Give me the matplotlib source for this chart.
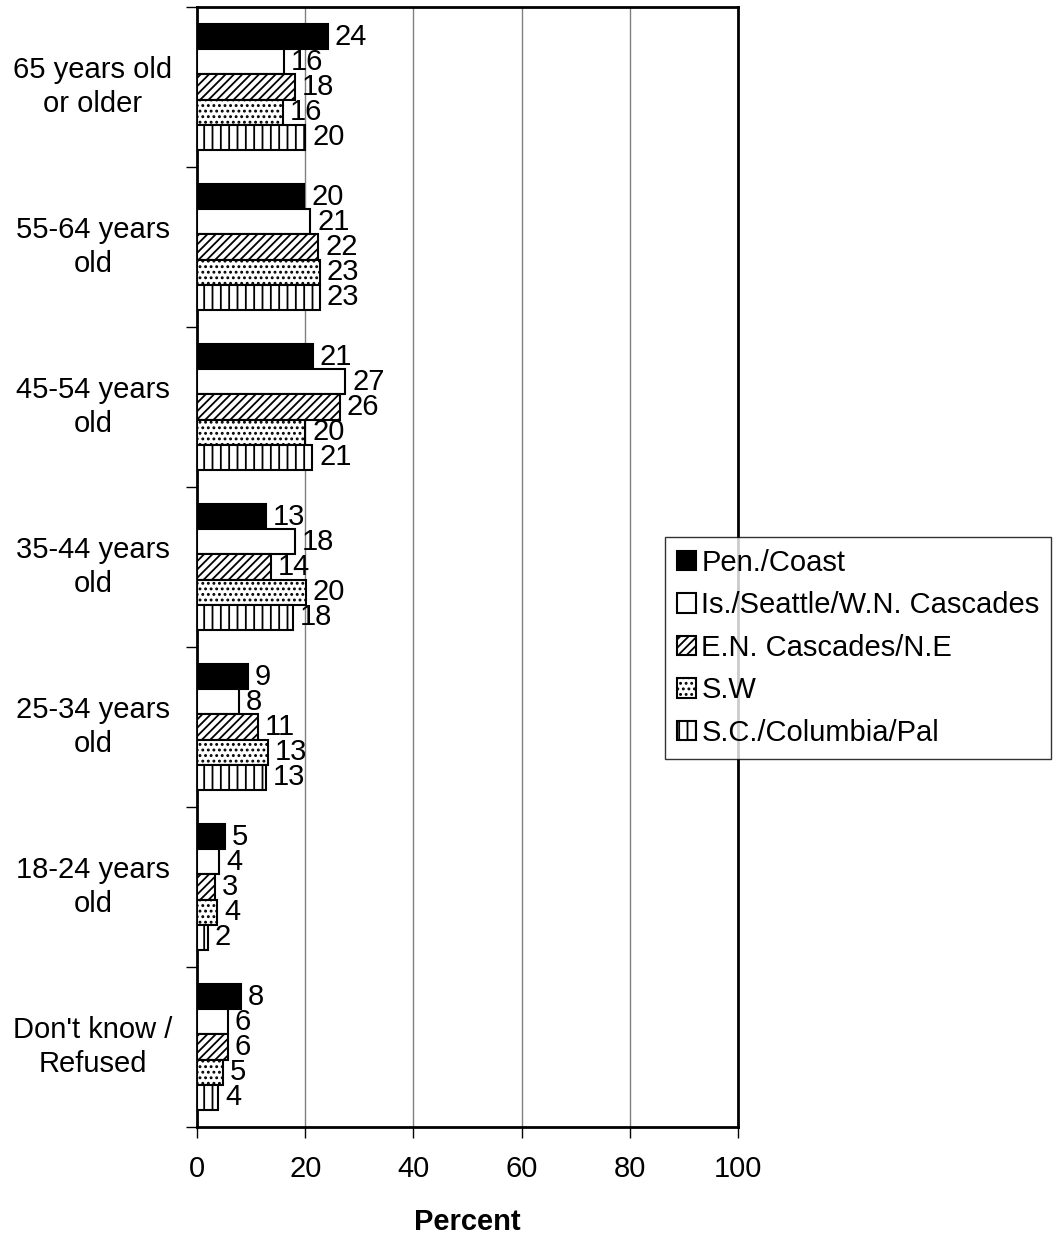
import matplotlib.pyplot as plt
import matplotlib.transforms as mtransforms
import numpy as np

plt.rcParams["font.family"] = ["Liberation Sans", "DejaVu Sans"]
plt.rcParams["hatch.linewidth"] = 1.3

categories = [
    "65 years old\nor older",
    "55-64 years\nold",
    "45-54 years\nold",
    "35-44 years\nold",
    "25-34 years\nold",
    "18-24 years\nold",
    "Don't know /\nRefused",
]
regions = [
    "Pen./Coast",
    "Is./Seattle/W.N. Cascades",
    "E.N. Cascades/N.E",
    "S.W",
    "S.C./Columbia/Pal",
]
pen_coast = [24.2, 19.8, 21.4, 12.8, 9.4, 5.2, 8.1]
is_seattle = [16.1, 20.9, 27.4, 18.1, 7.8, 4.1, 5.7]
en_cascades = [18.1, 22.4, 26.4, 13.7, 11.3, 3.3, 5.7]
sw = [15.9, 22.7, 20.0, 20.1, 13.1, 3.7, 4.8]
sc_columbia = [20.0, 22.7, 21.3, 17.7, 12.8, 2.0, 3.9]
series = [pen_coast, is_seattle, en_cascades, sw, sc_columbia]

styles = [
    dict(color="black", hatch=None),
    dict(color="white", hatch=None),
    dict(color="white", hatch="////"),
    dict(color="white", hatch="..."),
    dict(color="white", hatch="||"),
]

FS = 21

fig = plt.figure(figsize=(10.61, 12.36), dpi=100)
ax = fig.add_axes([197 / 1061, 1 - 1127 / 1236, (738 - 197) / 1061, (1127 - 7) / 1236])

y = np.arange(len(categories))
h = 0.157
for j, (vals, st) in enumerate(zip(series, styles)):
    pos = y + (j - 2) * h
    ax.barh(pos, vals, height=h, color=st["color"], hatch=st["hatch"],
            edgecolor="black", linewidth=1.5, label=regions[j], zorder=3)
    for p, v in zip(pos, vals):
        ax.annotate(f"{v:.0f}", (v, p), xytext=(5, 0), textcoords="offset points",
                    va="center", ha="left", fontsize=FS, zorder=4)

ax.set_xlim(0, 100)
ax.set_ylim(len(categories) - 0.5, -0.5)
ax.set_xticks([0, 20, 40, 60, 80, 100])
ax.tick_params(axis="x", labelsize=FS, length=8, width=1, pad=12, direction="out")
ax.set_yticks(np.arange(len(categories) + 1) - 0.5)
ax.set_yticklabels([])
ax.tick_params(axis="y", length=8, width=1, direction="out")

trans = mtransforms.blended_transform_factory(ax.transAxes, ax.transData)
for yi, cat in zip(y, categories):
    ax.text(-104 / 541, yi, cat, transform=trans, ha="center", va="center",
            multialignment="center", fontsize=FS, linespacing=1.25)

ax.xaxis.grid(True, color="#808080", linewidth=1, zorder=0)
for s in ax.spines.values():
    s.set_linewidth(2)
    s.set_color("black")

fig.text(467 / 1061, 1 - 1222 / 1236, "Percent", ha="center", va="center",
         fontsize=FS, fontweight="bold")

leg = ax.legend(loc="upper left", bbox_to_anchor=(665 / 1061, 1 - 537 / 1236),
                bbox_transform=fig.transFigure, fontsize=FS, frameon=True,
                fancybox=False, handlelength=0.65, handleheight=0.65,
                handletextpad=0.2, labelspacing=0.5, borderpad=0.4,
                borderaxespad=0)
leg.get_frame().set_edgecolor("black")
leg.get_frame().set_linewidth(1)

fig.savefig("out.png", dpi=100)
